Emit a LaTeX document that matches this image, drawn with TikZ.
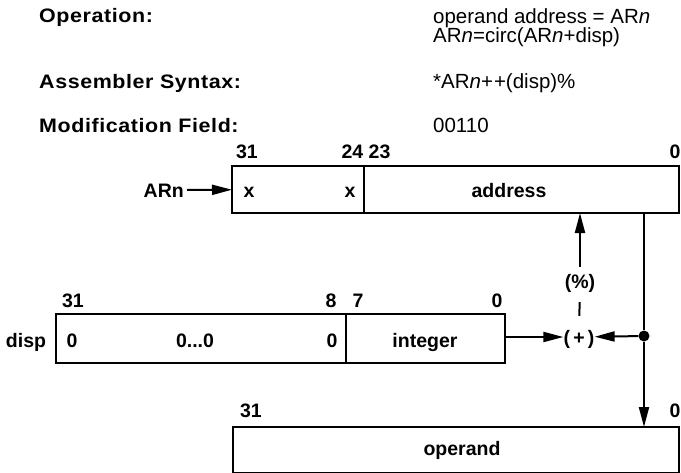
\documentclass[tikz,border=0pt]{standalone}
\usepackage{fontspec}
\setmainfont{Liberation Sans}
\newfontfamily\hdrfont{Liberation Sans}[FakeStretch=1.1, LetterSpace=3]
\usetikzlibrary{arrows.meta}
\begin{document}
\begin{tikzpicture}[x=1pt,y=-1pt,
  lbl/.style={font=\bfseries\fontsize{19.5}{22}\selectfont, inner sep=0pt, text height=14pt, text depth=0pt},
  hdr/.style={font=\hdrfont\bfseries\fontsize{19.5}{24}\selectfont, inner sep=0pt, anchor=base west},
  val/.style={font=\fontsize{20.5}{24}\selectfont, inner sep=0pt, anchor=base west},
  field/.style={draw, line width=2.5pt, rectangle, inner sep=0pt, outer sep=0pt, anchor=north west, minimum height=47pt},
  conn/.style={line width=2pt},
  arr/.style={conn, -{Triangle[length=20pt,width=10pt]}},
]
\useasboundingbox (0,0) rectangle (681,472);
% header
\node[hdr] (op) at (39,22) {Operation:};
\node[hdr] (as) at (39,88) {Assembler Syntax:};
\node[hdr] (mf) at (39,132) {Modification Field:};
\node[val] (opv1) at (433,23) {operand address = AR\textit{n}};
\node[val] (opv2) at (433,42) {AR\textit{n}=circ(AR\textit{n}+disp)};
\node[val] (asv) at (433,88) {*AR\textit{n}+\kern1pt+(disp)\%};
\node[val] (mfv) at (433,132) {00110};
% ARn register
\node[field, minimum width=132pt] (arx) at (232,166) {};
\node[field, minimum width=315pt] (araddr) at (364,166) {};
\node[lbl] (xl) at (249,190) {x};
\node[lbl] (xr) at (350,190) {x};
\node[lbl] (addrt) at (509,190) {address};
\node[lbl] (b31a) at (247,151) {31};
\node[lbl] (b2423) at (366,151) {24 23};
\node[lbl] (b0a) at (675,151) {0};
\node[lbl, anchor=east] (arn) at (184,190) {ARn};
\draw[arr, shorten <=3pt] (arn) -- (arx);
% disp register
\node[field, minimum width=290pt, minimum height=49pt] (dz) at (56,314) {};
\node[field, minimum width=159pt, minimum height=49pt] (di) at (346,314) {};
\node[lbl] (displ) at (26,340) {disp};
\node[lbl] (z1) at (72,340) {0};
\node[lbl] (z2) at (195,340) {0...0};
\node[lbl] (z3) at (332,340) {0};
\node[lbl] (intt) at (425,340) {integer};
\node[lbl] (b31b) at (73,300) {31};
\node[lbl] (b8) at (331,300) {8};
\node[lbl] (b7) at (358,300) {7};
\node[lbl] (b0b) at (497,300) {0};
% operand
\node[field, minimum width=446pt, minimum height=46pt] (opb) at (233,427) {};
\node[lbl] (opt) at (462,448) {operand};
\node[lbl] (b31c) at (251,410) {31};
\node[lbl] (b0c) at (675,410) {0};
% adder
\node[lbl] (pct) at (580,281) {(\%)};
\node[lbl] (plus) at (579,337) {(\,+\,)};
\node[circle, fill, inner sep=0pt, minimum size=11pt] (dot) at (644,336) {};
\draw[conn, shorten <=14pt, shorten >=14pt] (pct) -- (plus);
\draw[arr, shorten <=7pt] (pct) -- (pct |- araddr.south);
\draw[conn] (dot |- araddr.south) -- (dot);
\draw[arr] (dot) -- (dot |- opb.north);
\draw[arr] (dot) -- (plus);
\draw[arr] (di.east |- plus) -- (plus);
\end{tikzpicture}
\end{document}
